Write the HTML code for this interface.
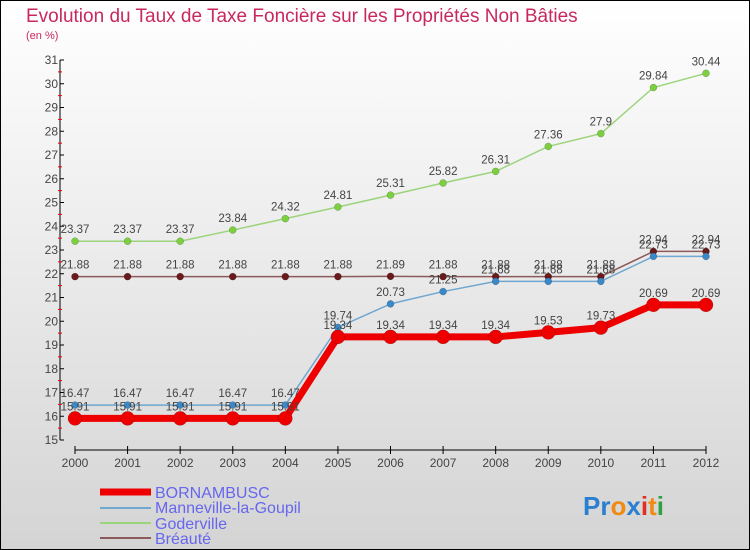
<!DOCTYPE html>
<html><head><meta charset="utf-8"><style>
body{margin:0;width:750px;height:550px;overflow:hidden}
svg{display:block;font-family:"Liberation Sans",sans-serif}
</style></head><body>
<svg id="c" width="750" height="550" xmlns="http://www.w3.org/2000/svg">
<defs><linearGradient id="bg" x1="0" y1="0" x2="0" y2="1"><stop offset="0" stop-color="#ffffff"/><stop offset="1" stop-color="#d4d4d4"/></linearGradient></defs>
<rect x="0.5" y="0.5" width="749" height="549" fill="url(#bg)" stroke="#000"/>
<text x="26" y="22" font-size="19" fill="#c8285f">Evolution du Taux de Taxe Foncière sur les Propriétés Non Bâties</text>
<text x="26" y="39" font-size="11" fill="#c8285f">(en %)</text>
<g id="axes"></g><g id="series"></g>
<g>
<line x1="100" y1="492" x2="151" y2="492" stroke="#e00" stroke-width="7"/>
<text x="155" y="498" font-size="16" fill="#6666ee">BORNAMBUSC</text>
<line x1="100" y1="508" x2="151" y2="508" stroke="#6fa7d0" stroke-width="2"/>
<text x="155" y="513" font-size="16" fill="#6666ee">Manneville-la-Goupil</text>
<line x1="100" y1="523" x2="151" y2="523" stroke="#9cd47c" stroke-width="2"/>
<text x="155" y="529" font-size="16" fill="#6666ee">Goderville</text>
<line x1="100" y1="538" x2="151" y2="538" stroke="#8c5a5a" stroke-width="2"/>
<text x="155" y="544" font-size="16" fill="#6666ee">Bréauté</text>
</g>
<text x="583" y="515" font-size="26" font-weight="bold"><tspan fill="#2a7fd0">Pr</tspan><tspan fill="#f08a10">o</tspan><tspan fill="#2a7fd0">x</tspan><tspan fill="#e03020">i</tspan><tspan fill="#f08a10">t</tspan><tspan fill="#30a040">i</tspan></text>
</svg>
<script>
const years=[2000,2001,2002,2003,2004,2005,2006,2007,2008,2009,2010,2011,2012];
const yTicks=[15,16,17,18,19,20,21,22,23,24,25,26,27,28,29,30,31];
const bornambusc=[15.91,15.91,15.91,15.91,15.91,19.34,19.34,19.34,19.34,19.53,19.73,20.69,20.69];
const manneville=[16.47,16.47,16.47,16.47,16.47,19.74,20.73,21.25,21.68,21.68,21.68,22.73,22.73];
const goderville=[23.37,23.37,23.37,23.84,24.32,24.81,25.31,25.82,26.31,27.36,27.9,29.84,30.44];
const breaute=[21.88,21.88,21.88,21.88,21.88,21.88,21.89,21.88,21.88,21.88,21.88,22.94,22.94];
const NS="http://www.w3.org/2000/svg";
const xS=y=>75+(y-2000)*(706-75)/12;
const yS=v=>440-(v-15)*(380/16);
function mk(tag,at,parent){const e=document.createElementNS(NS,tag);for(const k in at)e.setAttribute(k,at[k]);parent.appendChild(e);return e;}
const ax=document.getElementById('axes');
let l=mk('line',{x1:60,y1:60,x2:60,y2:440,stroke:'#000'},ax);


yTicks.forEach(t=>{
 mk('line',{x1:60,y1:yS(t),x2:64,y2:yS(t),stroke:'#000'},ax);
 if(t<31) mk('line',{x1:58,y1:yS(t+0.5),x2:62,y2:yS(t+0.5),stroke:'#e00'},ax);
 const tx=mk('text',{x:58,y:yS(t)+4,'font-size':12,'text-anchor':'end',fill:'#444'},ax);
 tx.textContent=t;
 
 
});
l=mk('line',{x1:75,y1:450,x2:706,y2:450,stroke:'#000'},ax);


years.forEach(y=>{
 mk('line',{x1:xS(y),y1:446,x2:xS(y),y2:454,stroke:'#000'},ax);
 const tx=mk('text',{x:xS(y),y:467,'font-size':12,'text-anchor':'middle',fill:'#444'},ax);
 tx.textContent=y;
 
 
});
const sg=document.getElementById('series');
function draw(vals,name,col,dot,w,r){
 const g=mk('g',{},sg);
 
 
 const pl=mk('polyline',{points:vals.map((v,i)=>xS(years[i])+','+yS(v)).join(' '),fill:'none',stroke:col,'stroke-width':w,'stroke-linejoin':'round'},g);
 
 
 vals.forEach((v,i)=>{
  const c=mk('circle',{cx:xS(years[i]),cy:yS(v),r:r,fill:dot,stroke:'rgba(0,0,0,0.3)','stroke-width':0.5},g);
  
  
  const t=mk('text',{x:xS(years[i]),y:yS(v)-8,'font-size':11.5,'text-anchor':'middle',fill:'#444'},g);
  t.textContent=String(v);
  
  
 });
}
draw(goderville,'goderville','#9cd47c','#7cd040',1.5,3.5);
draw(breaute,'breaute','#8c5a5a','#6a1a1a',1.5,3.5);
draw(manneville,'manneville','#6fa7d0','#3a88c8',1.5,3.5);
draw(bornambusc,'bornambusc','#e00','#e00',7,7);
</script>
</body></html>
